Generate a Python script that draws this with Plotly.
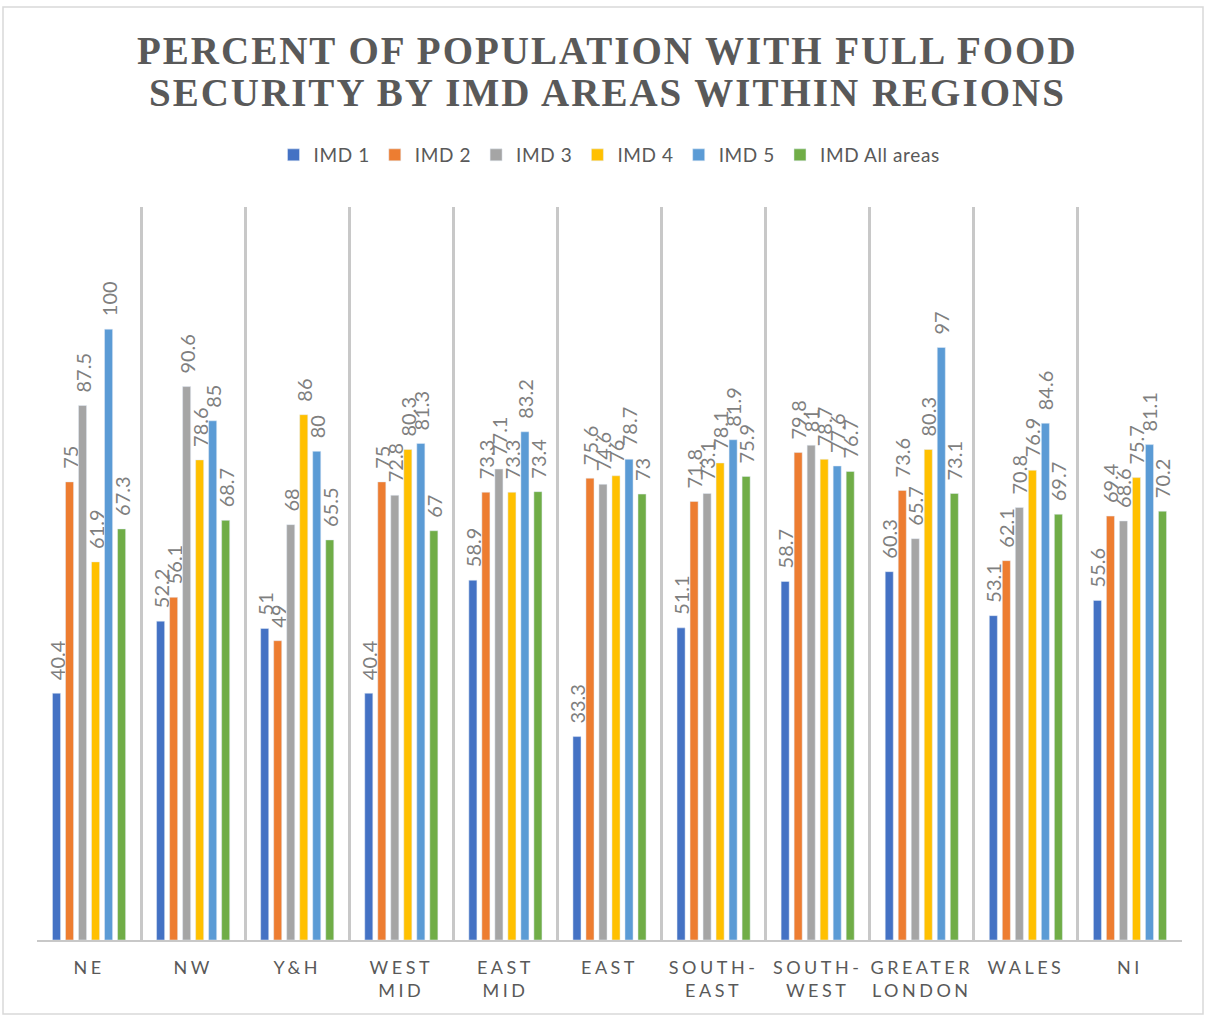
import plotly.graph_objects as go

# Regions and IMD series values (% of population with full food security)
regions = ["NE", "NW", "Y&H", "WEST MID", "EAST MID", "EAST",
           "SOUTH-EAST", "SOUTH-WEST", "GREATER LONDON", "WALES", "NI"]
imd1 = [40.4, 52.2, 51, 40.4, 58.9, 33.3, 51.1, 58.7, 60.3, 53.1, 55.6]
imd2 = [75, 56.1, 49, 75, 73.3, 75.6, 71.8, 79.8, 73.6, 62.1, 69.4]
imd3 = [87.5, 90.6, 68, 72.8, 77.1, 74.6, 73.1, 81, 65.7, 70.8, 68.6]
imd4 = [61.9, 78.6, 86, 80.3, 73.3, 76, 78.1, 78.7, 80.3, 76.9, 75.7]
imd5 = [100, 85, 80, 81.3, 83.2, 78.7, 81.9, 77.6, 97, 84.6, 81.1]
imd_all = [67.3, 68.7, 65.5, 67, 73.4, 73, 75.9, 76.7, 73.1, 69.7, 70.2]

series_names = ["IMD 1", "IMD 2", "IMD 3", "IMD 4", "IMD 5", "IMD All areas"]
series_values = [imd1, imd2, imd3, imd4, imd5, imd_all]
colors = ["#4472C4", "#ED7D31", "#A5A5A5", "#FFC000", "#5B9BD5", "#70AD47"]

W, H = 1205, 1016
L, R, T, B = 37, 23, 207, 76
pw, ph = W - L - R, H - T - B

def px_x(x):
    return (x - L) / pw

def px_y(y):
    return (H - B - y) / ph

def tracked(text, px):
    return f'<span style="letter-spacing:{px}px">{text}</span>'

def tick_label(label):
    # category labels wrap at spaces / after hyphens, with wide tracking
    words = label.replace("-", "-\n").replace(" ", "\n").split("\n")
    return "<br>".join(tracked(w, 3.5) for w in words if w)

fig = go.Figure()
for name, vals, col in zip(series_names, series_values, colors):
    fig.add_trace(go.Bar(
        name=tracked(name, 0.6), x=regions, y=vals, marker_color=col,
        text=[f"\u2002{v:g}" for v in vals], textposition="outside",
        textangle=-90, constraintext="none", cliponaxis=False,
        textfont=dict(family="Lato", size=20, color="#7f7f7f"),
    ))

fig.update_layout(
    width=W, height=H,
    margin=dict(l=L, r=R, t=T, b=B, autoexpand=False),
    paper_bgcolor="white", plot_bgcolor="white",
    barmode="group", bargap=0.25, bargroupgap=0.38,
    showlegend=True,
    legend=dict(orientation="h", x=0.5, xanchor="center",
                y=px_y(155), yanchor="middle",
                font=dict(family="Lato", size=19, color="#595959"),
                itemwidth=30, traceorder="normal"),
    xaxis=dict(tickmode="array", tickvals=regions,
               ticktext=[tick_label(r) for r in regions],
               tickangle=0, automargin=False,
               tickson="boundaries", showgrid=True, gridcolor="#c8c8c8",
               gridwidth=3, ticks="", showline=True, linecolor="#c8c8c8",
               linewidth=2, ticklabelstandoff=10,
               tickfont=dict(family="Lato", size=18, color="#595959")),
    yaxis=dict(range=[0, 120], showgrid=False, showticklabels=False,
               zeroline=False, showline=False, automargin=False),
    shapes=[dict(type="rect", xref="paper", yref="paper",
                 x0=px_x(3), x1=px_x(1203), y0=px_y(1014), y1=px_y(7),
                 line=dict(color="#d9d9d9", width=1.5))],
    annotations=[
        dict(text="<b>" + tracked("PERCENT OF POPULATION WITH FULL FOOD", 2) + "</b>",
             xref="paper", yref="paper", x=px_x(607), y=px_y(50),
             xanchor="center", yanchor="middle", showarrow=False,
             font=dict(family="Liberation Serif", size=39, color="#595959")),
        dict(text="<b>" + tracked("SECURITY BY IMD AREAS WITHIN REGIONS", 2) + "</b>",
             xref="paper", yref="paper", x=px_x(607), y=px_y(92),
             xanchor="center", yanchor="middle", showarrow=False,
             font=dict(family="Liberation Serif", size=39, color="#595959")),
    ],
)

fig.write_html("out.html")
